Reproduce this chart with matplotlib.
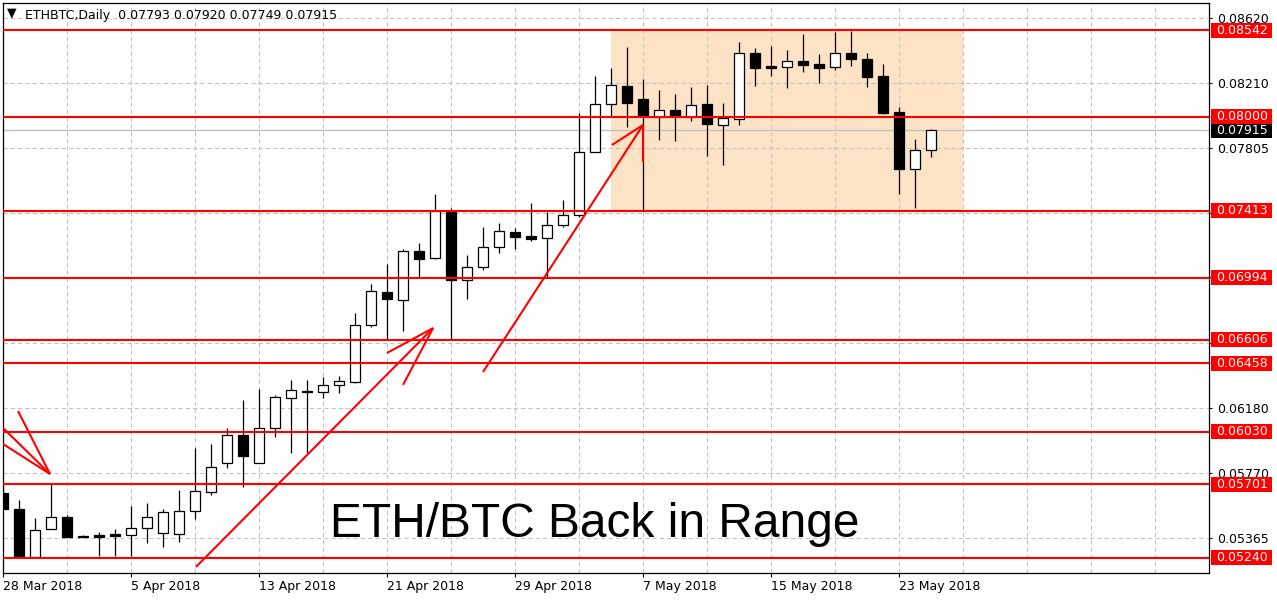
import matplotlib.pyplot as plt
import numpy as np
import pandas as pd
from matplotlib.patches import Rectangle

# daily candles, 28 Mar 2018 .. 25 May 2018
dates = pd.date_range('2018-03-28', periods=59, freq='D')

opens = [0.05646, 0.05546, 0.05246, 0.05421, 0.05496, 0.05378, 0.05384, 0.05390, 0.05384, 0.05428,
         0.05396, 0.05390, 0.05534, 0.05653, 0.05834, 0.06009, 0.05834, 0.06053, 0.06241, 0.06284,
         0.06278, 0.06322, 0.06341, 0.06697, 0.06903, 0.06853, 0.07160, 0.07116, 0.07404, 0.06979,
         0.07060, 0.07185, 0.07279, 0.07254, 0.07241, 0.07322, 0.07385, 0.07779, 0.08079, 0.08192,
         0.08111, 0.07998, 0.08042, 0.07998, 0.08079, 0.07948, 0.07985, 0.08398, 0.08317, 0.08311,
         0.08348, 0.08329, 0.08311, 0.08398, 0.08361, 0.08254, 0.08029, 0.07673, 0.07793]
highs = [0.05703, 0.05603, 0.05490, 0.05703, 0.05509, 0.05384, 0.05403, 0.05421, 0.05565, 0.05584,
         0.05546, 0.05665, 0.05928, 0.05953, 0.06053, 0.06228, 0.06297, 0.06259, 0.06353, 0.06353,
         0.06372, 0.06378, 0.06772, 0.06954, 0.07079, 0.07172, 0.07210, 0.07516, 0.07429, 0.07135,
         0.07310, 0.07335, 0.07304, 0.07460, 0.07404, 0.07479, 0.08023, 0.08254, 0.08304, 0.08436,
         0.08236, 0.08167, 0.08142, 0.08186, 0.08198, 0.08086, 0.08467, 0.08429, 0.08442, 0.08417,
         0.08517, 0.08392, 0.08529, 0.08536, 0.08398, 0.08329, 0.08060, 0.07860, 0.07920]
lows = [0.05540, 0.05242, 0.05244, 0.05421, 0.05371, 0.05370, 0.05252, 0.05252, 0.05252, 0.05334,
        0.05309, 0.05340, 0.05484, 0.05634, 0.05803, 0.05684, 0.05834, 0.05997, 0.05897, 0.05897,
        0.06241, 0.06272, 0.06334, 0.06685, 0.06610, 0.06660, 0.06997, 0.07110, 0.06610, 0.06860,
        0.07041, 0.07147, 0.07172, 0.07222, 0.06991, 0.07310, 0.07372, 0.07779, 0.07998, 0.07935,
        0.07416, 0.07854, 0.07848, 0.07973, 0.07754, 0.07698, 0.07948, 0.08192, 0.08254, 0.08179,
        0.08279, 0.08211, 0.08292, 0.08317, 0.08186, 0.08017, 0.07516, 0.07429, 0.07749]
closes = [0.05546, 0.05245, 0.05415, 0.05496, 0.05371, 0.05371, 0.05371, 0.05378, 0.05428, 0.05496,
          0.05528, 0.05534, 0.05659, 0.05809, 0.06009, 0.05878, 0.06053, 0.06247, 0.06291, 0.06278,
          0.06322, 0.06347, 0.06697, 0.06910, 0.06860, 0.07160, 0.07110, 0.07410, 0.06979, 0.07060,
          0.07185, 0.07285, 0.07247, 0.07235, 0.07322, 0.07385, 0.07779, 0.08079, 0.08198, 0.08086,
          0.08004, 0.08042, 0.08004, 0.08073, 0.07954, 0.07992, 0.08398, 0.08304, 0.08304, 0.08348,
          0.08323, 0.08304, 0.08398, 0.08361, 0.08248, 0.08023, 0.07673, 0.07792, 0.07915]

# horizontal support / resistance levels
levels = [0.08542, 0.08000, 0.07413, 0.06994, 0.06606, 0.06458, 0.06030, 0.05701, 0.05240]
last_price = 0.07915

# price scale ticks (some hidden behind the level labels)
yticks = [0.08620, 0.08210, 0.07805, 0.07400, 0.06995, 0.06585, 0.06180, 0.05770, 0.05365]
yticks_shown = [0.08620, 0.08210, 0.07805, 0.06180, 0.05770, 0.05365]

# range box (day index from start)
box_start, box_end = 38, 60
box_low, box_high = 0.07413, 0.08542

# hand drawn arrows: (day index, price) pairs
arrow1_x = [[0.0, 2.94], [0.0, 2.94], [0.94, 2.94]]
arrow1_y = [[0.06053, 0.05765], [0.05953, 0.05765], [0.06159, 0.05765]]
arrow2_x = [[12.06, 26.88], [24.0, 26.88], [25.0, 26.88]]
arrow2_y = [[0.05184, 0.06678], [0.06522, 0.06678], [0.06322, 0.06678]]
arrow3_x = [[30.0, 40.0], [38.06, 40.0], [40.0, 40.0]]
arrow3_y = [[0.06403, 0.07948], [0.07823, 0.07948], [0.07716, 0.07948]]

title = 'ETHBTC,Daily  0.07793 0.07920 0.07749 0.07915'
caption = 'ETH/BTC Back in Range'

x = np.arange(len(dates))
o = np.array(opens)
c = np.array(closes)
fs = 9

fig = plt.figure(figsize=(12.77, 6.0), dpi=100)
ax = fig.add_axes([3 / 1277, 27 / 600, 1206 / 1277, 570 / 600])
ax.set_xlim(0, 75.375)
ax.set_ylim(0.05146, 0.08711)

# grid
for gx in range(4, 76, 4):
    ax.axvline(gx, color='#C0C0C0', lw=0.75, ls=(0, (4, 3)), zorder=0.8)
for gy in yticks:
    ax.axhline(gy, color='#C0C0C0', lw=0.75, ls=(0, (4, 3)), zorder=0.8)

# range box
ax.add_patch(Rectangle((box_start, box_low), box_end - box_start, box_high - box_low,
                       facecolor='#FDE3C5', edgecolor='none', zorder=0.5))

# last price line
ax.axhline(last_price, color='#C0C0C0', lw=1.0, zorder=0.9)

# candles
ax.vlines(x, lows, highs, color='black', lw=0.9, zorder=2)
up = c >= o
ax.bar(x[up], (c - o)[up], bottom=o[up], width=0.65, color='white',
       edgecolor='black', linewidth=0.9, zorder=2.2)
ax.bar(x[~up], (o - c)[~up], bottom=c[~up], width=0.65, color='black',
       edgecolor='black', linewidth=0.9, zorder=2.2)

# levels
for lv in levels:
    ax.axhline(lv, color='#FF0000', lw=1.5, zorder=3)

# arrows
for ax_, ay_ in [(arrow1_x, arrow1_y), (arrow2_x, arrow2_y), (arrow3_x, arrow3_y)]:
    for sx, sy in zip(ax_, ay_):
        ax.plot(sx, sy, color='#FF0000', lw=1.5, zorder=3.5, solid_capstyle='butt')

# axes / ticks
ax.yaxis.tick_right()
ax.set_yticks(yticks)
ax.set_yticklabels([f'{t:.5f}' if t in yticks_shown else '' for t in yticks])
xt = list(range(0, len(dates), 8))
ax.set_xticks(xt)
ax.set_xticklabels([f'{dates[i].day} {dates[i].strftime("%b %Y")}' for i in xt], ha='left')
ax.tick_params(axis='y', length=2.5, width=0.8, pad=3, labelsize=fs)
ax.tick_params(axis='x', length=3, width=0.8, pad=2, labelsize=fs)
for s in ax.spines.values():
    s.set_linewidth(0.9)
    s.set_color('black')

# price labels on the scale
ytr = ax.get_yaxis_transform()
h = 0.00094
ax.add_patch(Rectangle((1.0017, last_price - h / 2), 0.0506, h, transform=ytr,
                       facecolor='black', edgecolor='none', clip_on=False, zorder=4))
ax.text(1.0058, last_price, f'{last_price:.5f}', transform=ytr, color='white',
        fontsize=fs, ha='left', va='center', clip_on=False, zorder=4.1)
for lv in levels:
    ax.add_patch(Rectangle((1.0017, lv - h / 2), 0.0506, h, transform=ytr,
                           facecolor='#FF0000', edgecolor='none', clip_on=False, zorder=5))
    ax.text(1.0058, lv, f'{lv:.5f}', transform=ytr, color='white',
            fontsize=fs, ha='left', va='center', clip_on=False, zorder=5.1)

# header
ax.text(0.00705, 0.9825, '\u25bc', transform=ax.transAxes, fontsize=9,
        ha='center', va='center')
ax.text(0.0183, 0.9719, title, transform=ax.transAxes, fontsize=fs,
        ha='left', va='baseline')

# caption
ax.text(37.0, 0.05371, caption, fontsize=34.5, family='Liberation Sans',
        ha='center', va='baseline', zorder=6)

fig.savefig('out.png', dpi=100)
